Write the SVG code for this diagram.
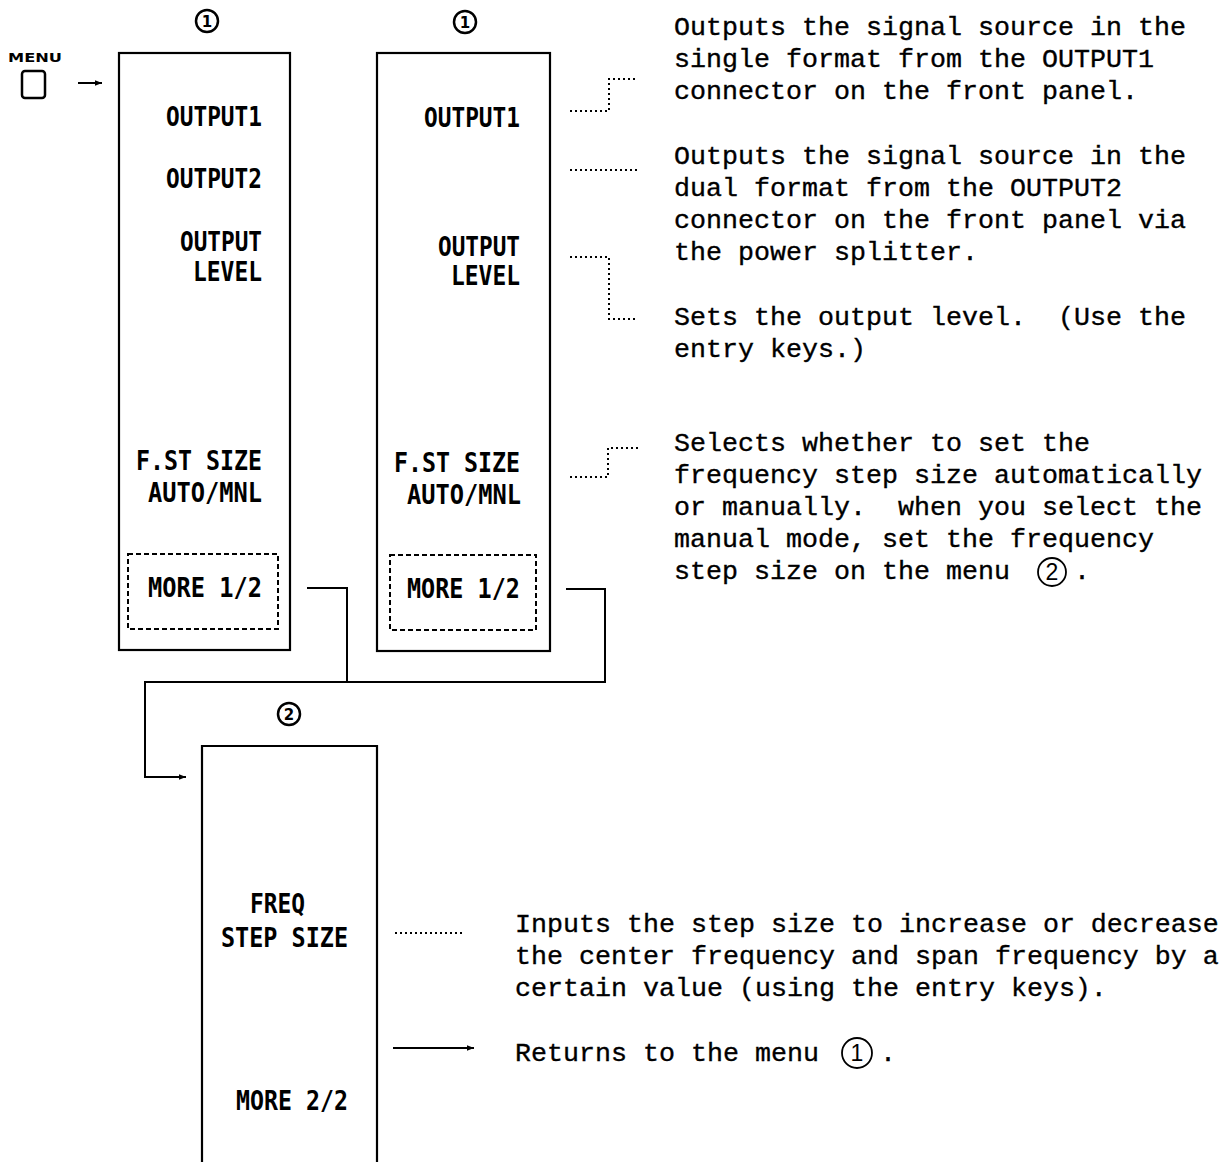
<svg xmlns="http://www.w3.org/2000/svg" width="1225" height="1162" viewBox="0 0 1225 1162">
<defs>
<style>
.panel{fill:none;stroke:#000;stroke-width:2.2}
.dbox{fill:none;stroke:#000;stroke-width:2;stroke-dasharray:5 3}
.lab{font-family:"DejaVu Sans Mono","Liberation Mono",monospace;font-weight:bold;font-size:26px;fill:#000}
.desc{font-family:"Liberation Mono","Courier New",monospace;font-size:26.67px;fill:#000;stroke:#000;stroke-width:0.35}
.conn{fill:none;stroke:#000;stroke-width:2}
.dot{fill:none;stroke:#000;stroke-width:2;stroke-dasharray:2 3}
.num{font-family:"DejaVu Sans","Liberation Sans",sans-serif;font-weight:bold;font-size:15px;fill:#000;text-anchor:middle}
.cnum{font-family:"Liberation Sans","DejaVu Sans",sans-serif;font-size:23px;fill:#000;text-anchor:middle}
.ring{fill:none;stroke:#000;stroke-width:2.5}
.ring2{fill:none;stroke:#000;stroke-width:1.8}
</style>
<marker id="ah" viewBox="0 0 10 10" refX="10" refY="5" markerWidth="7" markerHeight="7" markerUnits="userSpaceOnUse" orient="auto">
<path d="M0,1 L10,5 L0,9 Z" fill="#000"/>
</marker>
</defs>
<rect width="1225" height="1162" fill="#fff"/>

<g id="menu-key">
<text x="8" y="62" textLength="54" lengthAdjust="spacingAndGlyphs" style="font-family:'DejaVu Sans','Liberation Sans',sans-serif;font-weight:bold;font-size:12px">MENU</text>
<rect x="22" y="71" width="23" height="27" rx="3" fill="none" stroke="#000" stroke-width="2.5"/>
</g>

<g id="menu1a">
<circle class="ring" cx="207" cy="21" r="11"/>
<text class="num" x="207" y="26.5">1</text>
<rect class="panel" x="119" y="53" width="171" height="597"/>
<text class="lab" x="166" y="126" textLength="96" lengthAdjust="spacingAndGlyphs">OUTPUT1</text>
<text class="lab" x="166" y="188" textLength="96" lengthAdjust="spacingAndGlyphs">OUTPUT2</text>
<text class="lab" x="180" y="251" textLength="82" lengthAdjust="spacingAndGlyphs">OUTPUT</text>
<text class="lab" x="193" y="281" textLength="69" lengthAdjust="spacingAndGlyphs">LEVEL</text>
<text class="lab" x="136" y="470" textLength="126" lengthAdjust="spacingAndGlyphs">F.ST SIZE</text>
<text class="lab" x="148" y="502" textLength="114" lengthAdjust="spacingAndGlyphs">AUTO/MNL</text>
<rect class="dbox" x="128" y="554" width="150" height="75"/>
<text class="lab" x="148" y="597" textLength="114" lengthAdjust="spacingAndGlyphs">MORE 1/2</text>
</g>

<g id="menu1b">
<circle class="ring" cx="465" cy="22" r="11"/>
<text class="num" x="465" y="27.5">1</text>
<rect class="panel" x="377" y="53" width="173" height="598"/>
<text class="lab" x="424" y="127" textLength="96" lengthAdjust="spacingAndGlyphs">OUTPUT1</text>
<text class="lab" x="438" y="256" textLength="82" lengthAdjust="spacingAndGlyphs">OUTPUT</text>
<text class="lab" x="451" y="285" textLength="69" lengthAdjust="spacingAndGlyphs">LEVEL</text>
<text class="lab" x="394" y="472" textLength="126" lengthAdjust="spacingAndGlyphs">F.ST SIZE</text>
<text class="lab" x="407" y="504" textLength="114" lengthAdjust="spacingAndGlyphs">AUTO/MNL</text>
<rect class="dbox" x="390" y="555" width="146" height="75"/>
<text class="lab" x="407" y="598" textLength="113" lengthAdjust="spacingAndGlyphs">MORE 1/2</text>
</g>

<g id="menu2">
<circle class="ring" cx="289" cy="714" r="11"/>
<text class="num" x="289" y="719.5">2</text>
<path class="panel" d="M202,1162 V746 H377 V1162"/>
<text class="lab" x="250" y="913" textLength="55" lengthAdjust="spacingAndGlyphs">FREQ</text>
<text class="lab" x="221" y="947" textLength="127" lengthAdjust="spacingAndGlyphs">STEP SIZE</text>
<text class="lab" x="236" y="1110" textLength="112" lengthAdjust="spacingAndGlyphs">MORE 2/2</text>
</g>

<g id="connectors">
<line class="conn" x1="78" y1="83" x2="102" y2="83" marker-end="url(#ah)"/>
<polyline class="conn" points="307,588 347,588 347,682"/>
<polyline class="conn" points="566,589 605,589 605,682 145,682 145,777 186,777" marker-end="url(#ah)"/>
<line class="conn" x1="393" y1="1048" x2="474" y2="1048" marker-end="url(#ah)"/>
<polyline class="dot" points="570,111 609,111 609,79 638,79"/>
<line class="dot" x1="570" y1="170" x2="638" y2="170"/>
<polyline class="dot" points="570,257 609,257 609,319 638,319"/>
<polyline class="dot" points="570,477 608,477 608,448 638,448"/>
<line class="dot" x1="395" y1="933" x2="463" y2="933"/>
</g>

<g id="descriptions">
<text class="desc" x="674" y="35">Outputs the signal source in the</text>
<text class="desc" x="674" y="67">single format from the OUTPUT1</text>
<text class="desc" x="674" y="99">connector on the front panel.</text>
<text class="desc" x="674" y="164">Outputs the signal source in the</text>
<text class="desc" x="674" y="196">dual format from the OUTPUT2</text>
<text class="desc" x="674" y="228">connector on the front panel via</text>
<text class="desc" x="674" y="260">the power splitter.</text>
<text class="desc" x="674" y="325" xml:space="preserve">Sets the output level.  (Use the</text>
<text class="desc" x="674" y="357">entry keys.)</text>
<text class="desc" x="674" y="451">Selects whether to set the</text>
<text class="desc" x="674" y="483">frequency step size automatically</text>
<text class="desc" x="674" y="515" xml:space="preserve">or manually.  when you select the</text>
<text class="desc" x="674" y="547">manual mode, set the frequency</text>
<text class="desc" x="674" y="579">step size on the menu</text>
<circle class="ring2" cx="1052" cy="572" r="14"/>
<text class="cnum" x="1052" y="580">2</text>
<text class="desc" x="1074" y="579">.</text>
<text class="desc" x="515" y="932">Inputs the step size to increase or decrease</text>
<text class="desc" x="515" y="964">the center frequency and span frequency by a</text>
<text class="desc" x="515" y="996">certain value (using the entry keys).</text>
<text class="desc" x="515" y="1061">Returns to the menu</text>
<circle class="ring2" cx="857" cy="1053" r="15"/>
<text class="cnum" x="857" y="1061">1</text>
<text class="desc" x="880" y="1061">.</text>
</g>
</svg>
